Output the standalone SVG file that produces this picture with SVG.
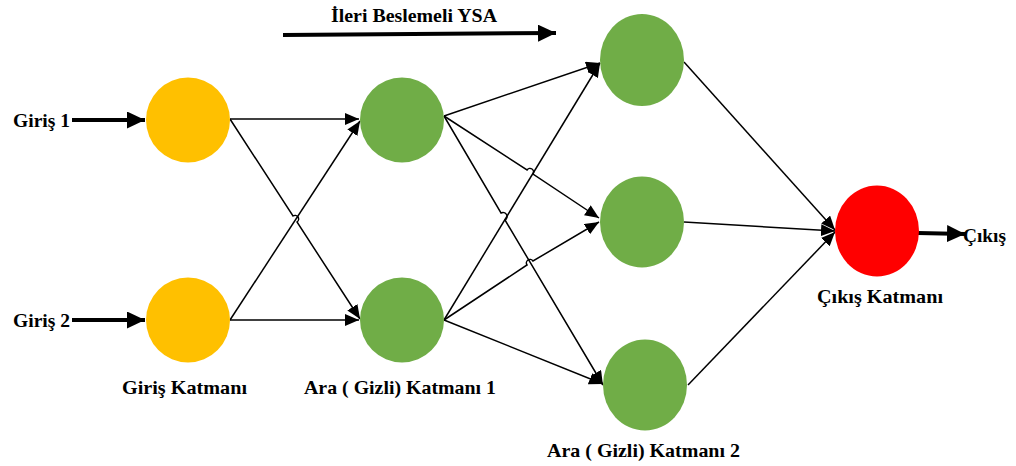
<svg xmlns="http://www.w3.org/2000/svg" width="1016" height="466" viewBox="0 0 1016 466">
<style>
.t{font-family:"Liberation Serif","Times New Roman",serif;font-weight:bold;font-size:19.5px;fill:#000}
.e{fill:none;stroke:#000;stroke-width:1.5}
.k{fill:none;stroke:#000;stroke-width:4}
.or{fill:#FFC000}
.gr{fill:#70AD47}
.rd{fill:#FF0000}
</style>
<defs>
<marker id="a" markerUnits="userSpaceOnUse" markerWidth="14" markerHeight="12" refX="14" refY="6" orient="auto"><path d="M0,0 L14,6 L0,12 Z" fill="#000"/></marker>
<marker id="b" markerUnits="userSpaceOnUse" markerWidth="18" markerHeight="17" refX="18" refY="8.5" orient="auto"><path d="M0,0 L18,8.5 L0,17 Z" fill="#000"/></marker>
</defs>
<g id="connectors">
<path class="k" d="M283,35 L556,33" marker-end="url(#b)"/>
<path class="k" d="M72,120 L145,120" marker-end="url(#b)"/>
<path class="k" d="M72,320 L145,320" marker-end="url(#b)"/>
<path class="k" d="M918,233 L965,234" marker-end="url(#b)"/>
<path class="e" d="M230,119 L359,119" marker-end="url(#a)"/>
<path class="e" d="M230,320 L359,320" marker-end="url(#a)"/>
<path class="e" d="M230,320 L360,121" marker-end="url(#a)"/>
<path class="e" d="M230,119 L293,216 A3,3 0 0 1 297,222 L360,319" marker-end="url(#a)"/>
<path class="e" d="M444,116 L600,63" marker-end="url(#a)"/>
<path class="e" d="M444,116 L527,170 A3.5,3.5 0 0 1 533,174 L599,218" marker-end="url(#a)"/>
<path class="e" d="M444,116 L501,213 A3.5,3.5 0 0 1 505,220 L603,385" marker-end="url(#a)"/>
<path class="e" d="M444,320 L600,63" marker-end="url(#a)"/>
<path class="e" d="M444,320 L527,265 A3.5,3.5 0 0 1 533,261 L599,222" marker-end="url(#a)"/>
<path class="e" d="M444,320 L603,384" marker-end="url(#a)"/>
<path class="e" d="M684,62 L835,230" marker-end="url(#a)"/>
<path class="e" d="M684,222 L835,231" marker-end="url(#a)"/>
<path class="e" d="M688,385 L835,232" marker-end="url(#a)"/>
</g>
<g id="input1"><ellipse class="or" cx="188" cy="120" rx="42" ry="42.5"/></g>
<g id="input2"><ellipse class="or" cx="188" cy="320" rx="42" ry="42.5"/></g>
<g id="hidden1a"><ellipse class="gr" cx="402" cy="120" rx="42" ry="42.5"/></g>
<g id="hidden1b"><ellipse class="gr" cx="402" cy="320" rx="42" ry="42.5"/></g>
<g id="hidden2a"><ellipse class="gr" cx="642" cy="60" rx="42" ry="46"/></g>
<g id="hidden2b"><ellipse class="gr" cx="642" cy="222" rx="42" ry="45.5"/></g>
<g id="hidden2c"><ellipse class="gr" cx="645" cy="385" rx="42" ry="45.5"/></g>
<g id="output"><ellipse class="rd" cx="877" cy="231" rx="42" ry="45.5"/></g>
<g id="labels">
<text class="t" x="331" y="22" style="font-size:18px" textLength="166" lengthAdjust="spacingAndGlyphs">İleri Beslemeli YSA</text>
<text class="t" x="13" y="127" textLength="57" lengthAdjust="spacingAndGlyphs">Giriş 1</text>
<text class="t" x="13" y="327" textLength="57" lengthAdjust="spacingAndGlyphs">Giriş 2</text>
<text class="t" x="122" y="394" textLength="125" lengthAdjust="spacingAndGlyphs">Giriş Katmanı</text>
<text class="t" x="304" y="394" textLength="192" lengthAdjust="spacingAndGlyphs">Ara ( Gizli) Katmanı 1</text>
<text class="t" x="547" y="457" textLength="193" lengthAdjust="spacingAndGlyphs">Ara ( Gizli) Katmanı 2</text>
<text class="t" x="817" y="303" textLength="126" lengthAdjust="spacingAndGlyphs">Çıkış Katmanı</text>
<text class="t" x="963" y="242" textLength="43" lengthAdjust="spacingAndGlyphs">Çıkış</text>
</g>
</svg>
